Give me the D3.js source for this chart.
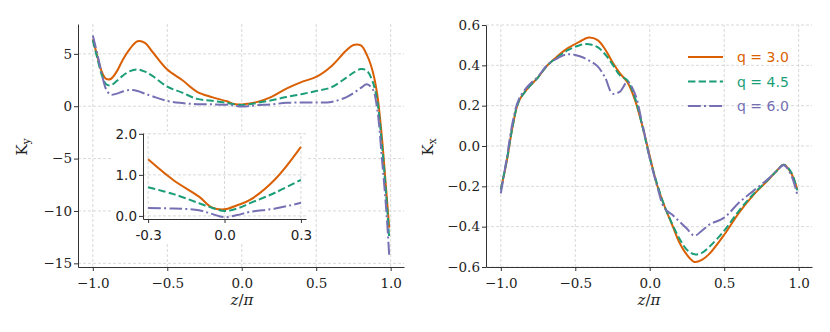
<!DOCTYPE html>
<html>
<head>
<meta charset="utf-8">
<script src="https://cdn.jsdelivr.net/npm/d3@7"></script>
<style>
  body { margin: 0; background: #fff; }
  svg { display: block; }
  .serif { font-family: "DejaVu Serif", serif; }
  .sans { font-family: "DejaVu Sans", sans-serif; }
</style>
</head>
<body>
<svg id="chart" width="830" height="332"></svg>
<script>
// Ky panel (left) - shared z/pi grid
const zKy = [-1, -0.97, -0.94, -0.91, -0.88, -0.84, -0.8, -0.75, -0.7, -0.65, -0.6, -0.5, -0.4, -0.3, -0.2, -0.1, -0.05, 0, 0.05, 0.1, 0.2, 0.3, 0.4, 0.5, 0.6, 0.7, 0.75, 0.8, 0.84, 0.88, 0.91, 0.94, 0.97, 0.99];
const kyQ30 = [6.4, 4.8, 3.3, 2.6, 2.6, 3.3, 4.4, 5.5, 6.2, 6.05, 5.2, 3.5, 2.5, 1.38, 0.87, 0.47, 0.21, 0.16, 0.26, 0.39, 0.9, 1.68, 2.3, 2.8, 3.8, 5.3, 5.85, 5.8, 4.9, 3.3, 1.1, -2.8, -8.0, -11.6];
const kyQ45 = [6.3, 4.6, 3.0, 2.1, 2.0, 2.4, 2.9, 3.35, 3.5, 3.3, 2.9, 1.87, 1.3, 0.7, 0.53, 0.31, 0.2, 0.12, 0.18, 0.31, 0.57, 0.88, 1.15, 1.45, 1.8, 2.7, 3.2, 3.55, 3.4, 2.3, 0.5, -3.5, -8.5, -12.6];
const kyQ60 = [6.75, 5.0, 3.1, 1.6, 1.1, 1.2, 1.4, 1.55, 1.45, 1.2, 0.95, 0.5, 0.3, 0.19, 0.18, 0.14, 0.05, -0.03, 0.02, 0.1, 0.18, 0.32, 0.35, 0.35, 0.4, 0.85, 1.25, 1.75, 2.1, 1.6, -0.3, -4.8, -9.8, -14.2];

// Kx panel (right)
const zKx = [-1, -0.96, -0.92, -0.88, -0.82, -0.75, -0.69, -0.62, -0.55, -0.47, -0.41, -0.35, -0.3, -0.25, -0.2, -0.15, -0.1, -0.05, 0, 0.05, 0.1, 0.15, 0.2, 0.25, 0.3, 0.35, 0.4, 0.5, 0.6, 0.7, 0.8, 0.85, 0.9, 0.95, 0.99];
const kxQ30 = [-0.216, -0.075, 0.1, 0.22, 0.285, 0.34, 0.398, 0.445, 0.485, 0.518, 0.538, 0.525, 0.48, 0.415, 0.36, 0.316, 0.23, 0.1, -0.05, -0.195, -0.3, -0.39, -0.48, -0.54, -0.575, -0.565, -0.535, -0.44, -0.33, -0.24, -0.165, -0.125, -0.093, -0.135, -0.215];
const kxQ45 = [-0.216, -0.07, 0.1, 0.22, 0.285, 0.34, 0.398, 0.44, 0.475, 0.5, 0.505, 0.49, 0.455, 0.405, 0.35, 0.325, 0.24, 0.1, -0.06, -0.19, -0.3, -0.385, -0.46, -0.515, -0.537, -0.53, -0.5, -0.42, -0.32, -0.235, -0.163, -0.125, -0.093, -0.13, -0.22];
const kxQ60 = [-0.235, -0.06, 0.12, 0.23, 0.295, 0.345, 0.4, 0.435, 0.455, 0.445, 0.425, 0.395, 0.34, 0.26, 0.27, 0.318, 0.26, 0.11, -0.06, -0.2, -0.31, -0.34, -0.375, -0.41, -0.445, -0.42, -0.39, -0.355, -0.28, -0.22, -0.16, -0.125, -0.095, -0.145, -0.24];

const qLabels = ["q = 3.0", "q = 4.5", "q = 6.0"];
const colors = ["#d95f02", "#1b9e77", "#7570b3"];
const dashes = [null, "7.4,3.2", "12.8,3.2,2,3.2"];

const xTicks = [-1.0, -0.5, 0.0, 0.5, 1.0];
const kyTicks = [5, 0, -5, -10, -15];
const kxTicks = [0.6, 0.4, 0.2, 0.0, -0.2, -0.4, -0.6];
const insetXTicks = [-0.3, 0.0, 0.3];
const insetYTicks = [0.0, 1.0, 2.0];

const svg = d3.select("#chart");

function gridAndAxes(g, x, y, xt, yt, xfmt, yfmt, cls, fsize) {
  const [x0, x1] = x.range();
  const [y0, y1] = y.range();
  g.append("g").selectAll("line").data(xt).enter().append("line")
    .attr("x1", d => x(d)).attr("x2", d => x(d)).attr("y1", y0).attr("y2", y1)
    .attr("stroke", "#cfcfcf").attr("stroke-width", 0.8).attr("stroke-dasharray", "3,2");
  g.append("g").selectAll("line").data(yt).enter().append("line")
    .attr("x1", x0).attr("x2", x1).attr("y1", d => y(d)).attr("y2", d => y(d))
    .attr("stroke", "#cfcfcf").attr("stroke-width", 0.8).attr("stroke-dasharray", "3,2");

  const ax = g.append("g").attr("transform", `translate(0,${y0})`)
    .call(d3.axisBottom(x).tickValues(xt).tickFormat(xfmt).tickSize(4).tickSizeOuter(0));
  const ay = g.append("g").attr("transform", `translate(${x0},0)`)
    .call(d3.axisLeft(y).tickValues(yt).tickFormat(yfmt).tickSize(4).tickSizeOuter(0));
  [ax, ay].forEach(a => {
    a.attr("font-family", null).attr("font-size", null);
    a.select(".domain").attr("stroke", "#333").attr("stroke-width", 1);
    a.selectAll(".tick line").attr("stroke", "#333");
    a.selectAll(".tick text").attr("class", cls).style("font-size", fsize + "px").attr("fill", "#222");
  });
  ax.selectAll(".tick text").attr("dy", "1.0em");
  ay.selectAll(".tick text").attr("x", -6);
}

function drawLines(g, x, y, zs, series, filter) {
  const line = d3.line().x(d => x(d[0])).y(d => y(d[1])).curve(d3.curveCatmullRom.alpha(0.5));
  series.forEach((vals, i) => {
    let pts = zs.map((z, j) => [z, vals[j]]);
    if (filter) pts = pts.filter(filter);
    g.append("path").datum(pts)
      .attr("d", line)
      .attr("fill", "none")
      .attr("stroke", colors[i])
      .attr("stroke-width", 2)
      .attr("stroke-dasharray", dashes[i]);
  });
}

function yLabel(px, py, sub) {
  const t = svg.append("text")
    .attr("class", "serif")
    .attr("transform", `translate(${px},${py}) rotate(-90)`)
    .attr("text-anchor", "middle")
    .style("font-size", "15px").attr("fill", "#222");
  t.append("tspan").text("K");
  t.append("tspan").style("font-size", "10.5px").attr("dy", 3).text(sub);
}

function xLabel(px, py) {
  const t = svg.append("text")
    .attr("class", "serif")
    .attr("x", px).attr("y", py)
    .attr("text-anchor", "middle")
    .style("font-size", "15px").attr("fill", "#222");
  t.append("tspan").attr("font-style", "italic").text("z");
  t.append("tspan").text("/");
  t.append("tspan").attr("font-style", "italic").text("π");
}

const f1 = d3.format(".1f");
const f0 = d3.format("d");

// ---- left panel: Ky ----
const xL = d3.scaleLinear().domain([-1.0995, 1.0895]).range([78, 404]);
const yL = d3.scaleLinear().domain([-15.35, 7.85]).range([267, 24]);
const gL = svg.append("g");
gridAndAxes(gL, xL, yL, xTicks, kyTicks, f1, f0, "serif", 13.5);
drawLines(gL, xL, yL, zKy, [kyQ30, kyQ45, kyQ60]);
yLabel(27, 147, "y");
xLabel(242, 305);

// inset
const gI = svg.append("g");
gI.append("rect").attr("x", 112).attr("y", 131).attr("width", 196).attr("height", 113).attr("fill", "#fff");
const xI = d3.scaleLinear().domain([-0.32, 0.32]).range([143, 306]);
const yI = d3.scaleLinear().domain([-0.075, 2.02]).range([219, 133]);
const hyph = d => f1(d).replace("−", "-");
gridAndAxes(gI, xI, yI, insetXTicks, insetYTicks, hyph, hyph, "sans", 13.5);
drawLines(gI, xI, yI, zKy, [kyQ30, kyQ45, kyQ60], p => p[0] >= -0.3 && p[0] <= 0.3);

// ---- right panel: Kx ----
const xR = d3.scaleLinear().domain([-1.0995, 1.0895]).range([486, 812]);
const yR = d3.scaleLinear().domain([-0.6, 0.6]).range([267, 25]);
const gR = svg.append("g");
gridAndAxes(gR, xR, yR, xTicks, kxTicks, f1, f1, "serif", 13.5);
drawLines(gR, xR, yR, zKx, [kxQ30, kxQ45, kxQ60]);
yLabel(433, 147, "x");
xLabel(649, 305);

// legend
const leg = svg.append("g");
qLabels.forEach((lab, i) => {
  const ly = 57 + i * 24.5;
  leg.append("line").attr("x1", 688).attr("x2", 723).attr("y1", ly).attr("y2", ly)
    .attr("stroke", colors[i]).attr("stroke-width", 2).attr("stroke-dasharray", dashes[i]);
  leg.append("text").attr("class", "sans").attr("x", 737).attr("y", ly + 5)
    .style("font-size", "14px").attr("fill", colors[i]).text(lab);
});
</script>
</body>
</html>
